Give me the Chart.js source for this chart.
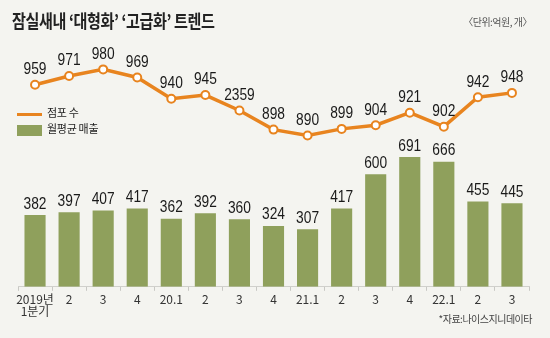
<!DOCTYPE html>
<html>
<head>
<meta charset="utf-8">
<script src="https://cdn.jsdelivr.net/npm/chart.js@4.4.0/dist/chart.umd.min.js"></script>
<style>
  body { margin: 0; background: #f4f4f0; }
  #wrap { position: relative; width: 550px; height: 338px; background: #f4f4f0; overflow: hidden; }
  #myChart { position: absolute; left: 0; top: 0; }
  .title { position: absolute; left: 12px; top: 7px; font: bold 18px "Noto Sans CJK KR"; color: #222; letter-spacing: -0.5px; transform: scaleX(0.84); transform-origin: left top; white-space: nowrap; }
  .unit { position: absolute; right: 18px; top: 14px; font: 10px "Noto Sans CJK KR"; color: #555; letter-spacing: -0.5px; }
  .source { position: absolute; right: 18px; top: 311px; font: 10px "Noto Sans CJK KR"; color: #444; letter-spacing: -0.5px; }
  .leg { position: absolute; left: 17px; font: 11px "Noto Sans CJK KR"; color: #222; letter-spacing: -0.3px; }
  .leg span { display: inline-block; vertical-align: middle; margin-right: 5px; }
</style>
</head>
<body>
<div id="wrap">
  <canvas id="myChart" width="550" height="338"></canvas>
  <div class="title">잠실새내 ‘대형화’ ‘고급화’ 트렌드</div>
  <div class="unit">〈단위:억원, 개〉</div>
  <div class="leg" style="top:104px"><span style="width:25px;height:3px;background:#e8841f"></span>점포 수</div>
  <div class="leg" style="top:120px"><span style="width:25px;height:11px;background:#8fa05c"></span>월평균 매출</div>
  <div class="source">*자료:나이스지니데이타</div>
</div>
<script>
const ctx = document.getElementById('myChart');

// 분기 라벨
const quarters = [['2019년', '1분기'], '2', '3', '4', '20.1', '2', '3', '4', '21.1', '2', '3', '4', '22.1', '2', '3'];
// 월평균 매출 (억원)
const sales = [382, 397, 407, 417, 362, 392, 360, 324, 307, 417, 600, 691, 666, 455, 445];
// 점포 수 (개) - 7번째 점은 그림 위치에서 읽은 값
const stores = [959, 971, 980, 969, 940, 945, 924, 898, 890, 899, 904, 921, 902, 942, 948];
// 점포 수 라벨 (원본 표기 그대로)
const storeLabels = ['959', '971', '980', '969', '940', '945', '2359', '898', '890', '899', '904', '921', '902', '942', '948'];

// 좁은 숫자 라벨 (가로로 눌러서 그림)
function narrowText(c, txt, x, y) {
  c.save();
  c.translate(x, y);
  c.scale(0.86, 1);
  c.fillText(txt, 0, 0);
  c.restore();
}

// 값 라벨 그리는 플러그인
const valueLabels = {
  id: 'valueLabels',
  afterDatasetsDraw(chart) {
    const c = chart.ctx;
    c.save();
    c.fillStyle = '#1a1a1a';
    c.font = '16px "Liberation Sans", Arial, sans-serif';
    c.textAlign = 'center';
    c.textBaseline = 'bottom';
    chart.getDatasetMeta(1).data.forEach((bar, i) => {
      narrowText(c, String(sales[i]), bar.x, bar.y - 3);
    });
    chart.getDatasetMeta(0).data.forEach((pt, i) => {
      narrowText(c, storeLabels[i], pt.x, pt.y - 7);
    });
    c.restore();
  }
};

new Chart(ctx, {
  data: {
    labels: quarters,
    datasets: [{
      type: 'line',
      label: '점포 수',
      data: stores,
      yAxisID: 'y2',
      borderColor: '#e8841f',
      borderWidth: 3.5,
      pointRadius: 4,
      pointBorderWidth: 2,
      pointBackgroundColor: '#ffffff',
      pointBorderColor: '#e8841f',
      tension: 0,
      order: 0
    }, {
      type: 'bar',
      label: '월평균 매출',
      data: sales,
      yAxisID: 'y',
      backgroundColor: '#8fa05c',
      barPercentage: 0.62,
      categoryPercentage: 1,
      order: 1
    }]
  },
  options: {
    responsive: false,
    animation: false,
    layout: { padding: { left: 18, right: 21, top: 40, bottom: 18 } },
    plugins: { legend: { display: false }, tooltip: { enabled: false } },
    scales: {
      x: {
        grid: { display: true, drawOnChartArea: false, color: '#c8c8c4', tickLength: 4, offset: true },
        border: { color: '#d0d0cc' },
        ticks: { color: '#333', font: { family: '"Noto Sans CJK KR"', size: 12, lineHeight: 1.05 }, padding: 2, maxRotation: 0, autoSkip: false }
      },
      y: { display: false, min: 0, max: 1315 },
      y2: { display: false, min: 684, max: 1020 }
    }
  },
  plugins: [valueLabels]
});
</script>
</body>
</html>
